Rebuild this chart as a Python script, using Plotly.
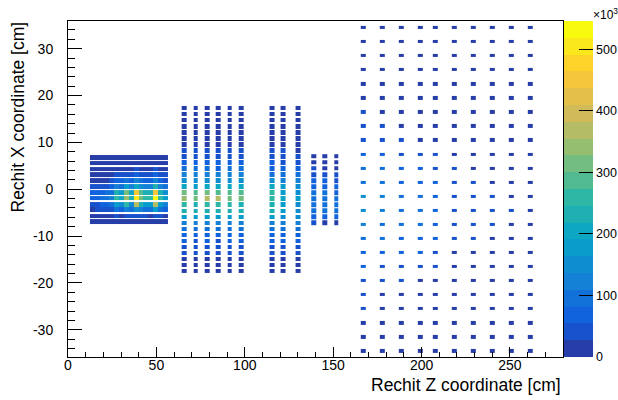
import plotly.graph_objects as go

# ---------------- data (bin contents in units of 10^3) ----------------
# Module 1: dense block
ee_z = [13.8, 16.55, 19.3, 22.05, 24.8, 27.55, 30.3, 33.05, 35.8, 38.55, 41.3, 44.05, 46.8, 49.55, 52.3, 55.05]
ee_x = [6.8, 5.6, 4.3, 3.1, 1.8, 0.6, -0.7, -1.9, -3.2, -4.4, -5.7, -6.9]
ee_vals = [
    [6, 7, 8, 8, 9, 12, 11, 14, 12, 15, 13, 12, 12, 17, 13, 10],
    [8, 9, 10, 11, 12, 16, 15, 18, 16, 20, 18, 17, 16, 22, 18, 14],
    [10, 11, 12, 14, 16, 22, 20, 24, 22, 28, 24, 22, 22, 32, 24, 18],
    [14, 15, 16, 18, 20, 38, 33, 48, 38, 63, 45, 39, 37, 68, 43, 28],
    [20, 22, 24, 27, 35, 73, 61, 88, 68, 113, 83, 71, 68, 118, 73, 53],
    [31, 33, 41, 51, 63, 133, 103, 173, 118, 213, 148, 123, 118, 223, 133, 83],
    [58, 61, 71, 85, 98, 223, 173, 313, 193, 443, 283, 228, 223, 453, 223, 148],
    [68, 73, 83, 98, 113, 258, 203, 343, 223, 505, 313, 253, 248, 546, 253, 173],
    [48, 53, 61, 73, 85, 188, 148, 263, 163, 363, 238, 188, 183, 373, 188, 123],
    [25, 28, 33, 41, 53, 93, 78, 123, 88, 163, 113, 93, 91, 173, 103, 68],
    [14, 15, 17, 19, 21, 29, 25, 33, 28, 41, 33, 28, 27, 45, 31, 22],
    [7, 8, 9, 10, 11, 14, 13, 15, 14, 17, 15, 14, 14, 18, 15, 12],
]

# Module 2: three groups of layers
fh_x = [17.3, 16.01, 14.73, 13.44, 12.15, 10.87, 9.58, 8.29, 7.0, 5.72, 4.43, 3.14, 1.86, 0.57,
        -0.72, -2.01, -3.29, -4.58, -5.87, -7.15, -8.44, -9.73, -11.01, -12.3, -13.59, -14.88, -16.16, -17.45]
fh1_z = [65.6, 72.2, 78.6, 85.1, 91.5, 98.1]
fh1_vals = [
    [8, 6, 10, 8, 7, 9], [6, 8, 7, 10, 8, 7], [8, 7, 10, 8, 9, 8], [10, 8, 9, 10, 8, 10],
    [12, 10, 14, 11, 10, 12], [16, 14, 18, 14, 16, 19], [19, 22, 19, 24, 20, 22],
    [43, 35, 41, 33, 38, 43], [53, 45, 51, 43, 48, 53], [68, 61, 65, 63, 68, 71],
    [93, 83, 88, 81, 85, 91], [123, 113, 118, 111, 115, 121], [158, 143, 151, 145, 148, 153],
    [208, 188, 201, 193, 198, 203], [303, 283, 308, 293, 288, 278], [343, 318, 358, 363, 323, 303],
    [263, 243, 258, 253, 248, 243], [238, 223, 235, 228, 231, 225], [183, 168, 178, 173, 171, 178],
    [128, 118, 123, 121, 123, 125], [98, 91, 95, 93, 91, 98], [73, 68, 71, 69, 73, 75],
    [58, 53, 55, 53, 57, 59], [43, 38, 41, 39, 43, 45], [33, 28, 31, 29, 33, 35],
    [18, 15, 17, 15, 18, 19], [11, 8, 9, 7, 11, 13], [6, 5, 6, 5, 7, 7],
]
fh2_z = [115.3, 121.7, 130.2]
fh2_vals = [
    [6, 5, 5], [7, 6, 5], [8, 7, 6], [9, 8, 7], [11, 9, 8], [15, 11, 9], [23, 17, 13],
    [41, 31, 21], [48, 41, 33], [63, 53, 45], [78, 68, 61], [103, 93, 83], [143, 123, 118],
    [203, 173, 148], [248, 188, 158], [258, 198, 168], [233, 183, 163], [228, 173, 153],
    [173, 148, 138], [123, 113, 111], [93, 88, 83], [71, 65, 61], [63, 58, 55], [45, 41, 38],
    [35, 31, 29], [18, 15, 13], [11, 8, 7], [5, 5, 4],
]
fh3_z = [138.9, 145.3, 151.7]
fh3_x = [7.0, 5.72, 4.43, 3.14, 1.86, 0.57, -0.72, -2.01, -3.29, -4.58, -5.87, -7.15]
fh3_vals = [
    [15, 13, 9], [19, 17, 13], [28, 23, 21], [45, 41, 35], [63, 58, 53], [73, 71, 68],
    [93, 85, 81], [103, 98, 91], [93, 88, 83], [98, 91, 85], [68, 63, 59], [28, 25, 21],
]

# Module 3: coarse tiles
ah_z = [167.0, 177.8, 188.6, 199.3, 207.8, 218.6, 229.4, 240.1, 250.9, 261.6]
ah_x = [34.5, 31.5, 28.5, 25.5, 22.5, 19.5, 16.5, 13.5, 10.5, 7.5, 4.5, 1.5,
        -1.5, -4.5, -7.5, -10.5, -13.5, -16.5, -19.5, -22.5, -25.5, -28.5, -31.5, -34.5]
ah_vals = [
    [5, 5, 4, 4, 4, 4, 3, 3, 3, 3],
    [6, 5, 5, 5, 4, 4, 4, 4, 3, 3],
    [7, 6, 6, 5, 5, 5, 4, 4, 4, 4],
    [8, 7, 7, 6, 6, 5, 5, 5, 4, 4],
    [10, 9, 8, 7, 7, 6, 6, 5, 5, 5],
    [13, 11, 10, 9, 8, 7, 7, 6, 6, 5],
    [35, 15, 13, 11, 10, 9, 8, 7, 7, 6],
    [38, 32, 17, 14, 12, 11, 10, 9, 8, 7],
    [48, 43, 36, 19, 16, 13, 12, 11, 10, 9],
    [61, 58, 53, 38, 33, 24, 16, 14, 12, 11],
    [88, 83, 63, 58, 35, 31, 20, 17, 13, 15],
    [108, 88, 71, 63, 58, 35, 31, 21, 17, 16],
    [138, 113, 93, 85, 68, 41, 38, 31, 21, 19],
    [153, 123, 98, 91, 71, 43, 39, 33, 30, 21],
    [123, 98, 91, 85, 63, 39, 35, 31, 21, 19],
    [98, 88, 68, 63, 58, 35, 31, 21, 19, 17],
    [68, 63, 61, 58, 38, 24, 21, 19, 17, 15],
    [61, 41, 38, 35, 31, 21, 19, 16, 14, 12],
    [38, 35, 31, 21, 19, 16, 14, 12, 10, 9],
    [31, 24, 21, 17, 14, 12, 10, 9, 8, 7],
    [33, 23, 19, 16, 13, 11, 9, 8, 7, 6],
    [19, 16, 13, 11, 9, 8, 7, 6, 5, 5],
    [12, 10, 9, 8, 7, 6, 5, 5, 4, 4],
    [7, 6, 5, 5, 4, 4, 4, 3, 3, 3],
]

Z_MAX = 546          # histogram maximum (x10^3)
N_CONTOURS = 20

x_ticks = [0, 50, 100, 150, 200, 250]
y_ticks = [-30, -20, -10, 0, 10, 20, 30]
y_ticktext = ["-30", "-20", "-10", "0", "10", "20", "30"]

# ---------------- styling helpers ----------------
BIRD_STOPS = [0.0, 0.125, 0.25, 0.375, 0.5, 0.625, 0.75, 0.875, 1.0]
BIRD_R = [0.2082, 0.0592, 0.0780, 0.0232, 0.1802, 0.5301, 0.8186, 0.9956, 0.9764]
BIRD_G = [0.1664, 0.3599, 0.5041, 0.6419, 0.7178, 0.7492, 0.7328, 0.7862, 0.9832]
BIRD_B = [0.5293, 0.8684, 0.8385, 0.7914, 0.6425, 0.4662, 0.3499, 0.1968, 0.0539]


def bird(t):
    t = min(max(t, 0.0), 1.0)
    for i in range(len(BIRD_STOPS) - 1):
        a, b = BIRD_STOPS[i], BIRD_STOPS[i + 1]
        if t <= b:
            f = (t - a) / (b - a)
            r = BIRD_R[i] + f * (BIRD_R[i + 1] - BIRD_R[i])
            g = BIRD_G[i] + f * (BIRD_G[i + 1] - BIRD_G[i])
            bb = BIRD_B[i] + f * (BIRD_B[i + 1] - BIRD_B[i])
            return "rgb(%d,%d,%d)" % (round(r * 255), round(g * 255), round(bb * 255))
    return "rgb(249,251,14)"


colorscale = []
for i in range(N_CONTOURS):
    idx = int((i + 0.99) * 255 / N_CONTOURS)
    c = bird(idx / 254.0)
    colorscale.append([i / N_CONTOURS, c])
    colorscale.append([(i + 1) / N_CONTOURS, c])


def cell_edges(centers, size):
    edges, index = [], []
    for k, c in enumerate(centers):
        lo, hi = c - size / 2.0, c + size / 2.0
        if not edges:
            edges.append(lo)
        elif lo > edges[-1] + 1e-9:
            index.append(None)
            edges.append(lo)
        index.append(k)
        edges.append(max(hi, edges[-1] + 1e-6))
    return edges, index


def module_trace(zc, xc, vals, w, h):
    order = sorted(range(len(xc)), key=lambda i: xc[i])
    xs = [xc[i] for i in order]
    rows = [vals[i] for i in order]
    ze, zi = cell_edges(zc, w)
    xe, xi = cell_edges(xs, h)
    mat = []
    for ri in xi:
        line = []
        for ci in zi:
            line.append(None if (ri is None or ci is None) else rows[ri][ci])
        mat.append(line)
    return go.Heatmap(x=ze, y=xe, z=mat, coloraxis="coloraxis", hoverongaps=False,
                      zsmooth=False)


fig = go.Figure()
fig.add_trace(module_trace(ee_z, ee_x, ee_vals, 2.75, 1.0))
fig.add_trace(module_trace(fh1_z, fh_x, fh1_vals, 2.6, 0.95))
fig.add_trace(module_trace(fh2_z, fh_x, fh2_vals, 2.6, 0.95))
fig.add_trace(module_trace(fh3_z, fh3_x, fh3_vals, 2.6, 0.95))
fig.add_trace(module_trace(ah_z, ah_x, ah_vals, 2.8, 0.7))

FONT = "Liberation Sans, Arial, Helvetica, sans-serif"
fig.update_layout(
    width=618, height=400,
    margin=dict(l=68, r=55, t=21, b=43, autoexpand=False),
    paper_bgcolor="white", plot_bgcolor="white",
    font=dict(family=FONT, size=14, color="black"),
    showlegend=False,
    coloraxis=dict(
        colorscale=colorscale, cmin=0, cmax=Z_MAX,
        colorbar=dict(
            thickness=29, x=1.003, xanchor="left", xpad=0,
            y=0.5, yanchor="middle", len=1, lenmode="fraction", ypad=0,
            outlinewidth=0, tickmode="linear", tick0=0, dtick=100,
            ticks="inside", ticklen=14, tickcolor="black", tickwidth=1,
            tickfont=dict(family=FONT, size=12.5, color="black"),
        ),
    ),
    xaxis=dict(
        range=[0, 280], showgrid=False, zeroline=False,
        showline=True, linecolor="black", linewidth=1, mirror=True,
        ticks="inside", ticklen=10, tickcolor="black",
        tickmode="array", tickvals=x_ticks,
        minor=dict(tick0=0, dtick=10, ticks="inside", ticklen=5, tickcolor="black"),
        ticklabelstandoff=-5,
    ),
    yaxis=dict(
        range=[-35.8, 35.9], showgrid=False, zeroline=False,
        showline=True, linecolor="black", linewidth=1, mirror=True,
        ticks="inside", ticklen=14, tickcolor="black",
        tickmode="array", tickvals=y_ticks, ticktext=y_ticktext,
        minor=dict(tick0=0, dtick=2, ticks="inside", ticklen=7, tickcolor="black"),
        ticklabelstandoff=11,
    ),
    annotations=[
        dict(text="Rechit Z coordinate [cm]", xref="paper", yref="paper",
             x=1.0, y=-0.082, xanchor="right", yanchor="middle", showarrow=False,
             font=dict(family=FONT, size=17.5, color="black")),
        dict(text="Rechit X coordinate [cm]", xref="paper", yref="paper",
             x=-0.101, y=1.003, xanchor="center", yanchor="top", textangle=-90,
             showarrow=False, font=dict(family=FONT, size=17.5, color="black")),
        dict(text="×10<sup>3</sup>", xref="paper", yref="paper",
             x=1.085, y=1.021, xanchor="center", yanchor="middle", showarrow=False,
             font=dict(family=FONT, size=12, color="black")),
    ],
)

fig.write_html("out.html")
